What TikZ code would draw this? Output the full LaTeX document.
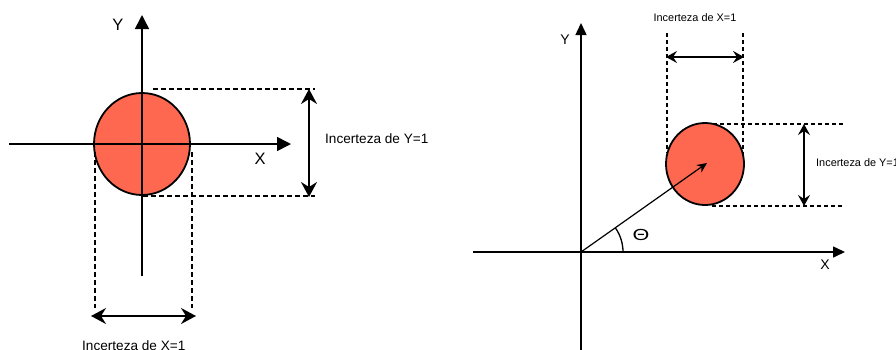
\documentclass[tikz,border=0pt]{standalone}
\usepackage{fontspec}
\setmainfont{Liberation Sans}
\usetikzlibrary{arrows.meta,shapes.geometric,angles}
\definecolor{blobred}{RGB}{255,104,80}
\tikzset{
	blob/.style={ellipse, draw=black, line width=1.8pt, fill=blobred, inner sep=0pt},
	guide/.style={line width=1.4pt, dash pattern=on 5pt off 3pt},
	lbl/.style={inner sep=0pt, font=\fontsize{13.6}{16}\selectfont}
}

\begin{document}
\begin{tikzpicture}[x=1pt, y=-1pt,
		axisarr/.style={-{Triangle[length=14pt,width=14pt]}, line width=1.6pt},
		dimarr/.style={{Stealth[length=15pt,width=16pt,inset=5pt]}-{Stealth[length=15pt,width=16pt,inset=5pt]}, line width=1.8pt},
		axisarrs/.style={-{Triangle[length=12pt,width=11pt]}, line width=1.5pt},
		dimarrs/.style={{Stealth[length=11pt,width=12pt,inset=4pt]}-{Stealth[length=11pt,width=12pt,inset=4pt]}, line width=1.5pt},
		guides/.style={line width=1.2pt, dash pattern=on 4pt off 3pt},
		lbls/.style={inner sep=0pt, font=\fontsize{10.9}{13}\selectfont}
	]
	\useasboundingbox (0,0) rectangle (896,349);
	% left: point with its uncertainty
	\coordinate (o1) at (142,144);
	\node[blob, minimum width=96pt, minimum height=102pt] (c1) at (o1) {};
	\coordinate (x1a) at (9,144);
	\coordinate (x1b) at (291,144);
	\coordinate (y1a) at (142,276);
	\coordinate (y1b) at (142,15);
	\draw[axisarr] (x1a) -- (x1b);
	\draw[axisarr] (y1a) -- (y1b);
	\node[font=\fontsize{16.5}{18}\selectfont] (y1lab) at (118,25) {Y};
	\node[font=\fontsize{16.5}{18}\selectfont] (x1lab) at (260,159) {X};
	\coordinate (t1a) at (153,89);
	\coordinate (t1b) at (315,89);
	\coordinate (b1a) at (143,196);
	\coordinate (b1b) at (315,196);
	\coordinate (l1a) at (95,152);
	\coordinate (l1b) at (95,308);
	\coordinate (r1a) at (192,152);
	\coordinate (r1b) at (192,308);
	\draw[guide] (t1a) -- (t1b);
	\draw[guide] (b1a) -- (b1b);
	\draw[guide] (l1a) -- (l1b);
	\draw[guide] (r1a) -- (r1b);
	\coordinate (dy1a) at (309,89);
	\coordinate (dy1b) at (309,197);
	\coordinate (dx1a) at (91,316);
	\coordinate (dx1b) at (196,316);
	\draw[dimarr] (dy1a) -- (dy1b);
	\draw[dimarr] (dx1a) -- (dx1b);
	\node[lbl, anchor=west] (uy1) at (325,139) {Incerteza de Y=1};
	\node[lbl, anchor=base west] (ux1) at (82,350) {Incerteza de X=1};

	% right: point seen from the origin
	\coordinate (o2) at (581,252);
	\node[blob, minimum width=78pt, minimum height=82pt] (c2) at (705,164) {};
	\coordinate (x2a) at (473,252);
	\coordinate (x2b) at (845,252);
	\coordinate (y2a) at (581,352);
	\coordinate (y2b) at (581,23);
	\draw[axisarrs] (x2a) -- (x2b);
	\draw[axisarrs] (y2a) -- (y2b);
	\node[font=\fontsize{14}{16}\selectfont] (y2lab) at (565,40) {Y};
	\node[font=\fontsize{14}{16}\selectfont] (x2lab) at (825,265) {X};
	\coordinate (tip) at (707,163);
	\draw[-{Stealth[length=10pt,width=9pt]}, line width=1.2pt] (o2) -- (tip);
	\pic[draw, line width=1.3pt, angle radius=42pt] {angle=x2b--o2--tip};
	\node[font=\fontsize{16}{18}\selectfont, xscale=1.35] (th) at (641,235) {Θ};
	\coordinate (l2a) at (667,33);
	\coordinate (l2b) at (667,153);
	\coordinate (r2a) at (743,33);
	\coordinate (r2b) at (743,157);
	\coordinate (t2a) at (713,124);
	\coordinate (t2b) at (843,124);
	\coordinate (b2a) at (712,206);
	\coordinate (b2b) at (843,206);
	\draw[guides] (l2a) -- (l2b);
	\draw[guides] (r2a) -- (r2b);
	\draw[guides] (t2a) -- (t2b);
	\draw[guides] (b2a) -- (b2b);
	\coordinate (dx2a) at (666,57);
	\coordinate (dx2b) at (744,57);
	\coordinate (dy2a) at (804,124);
	\coordinate (dy2b) at (804,206);
	\draw[dimarrs] (dx2a) -- (dx2b);
	\draw[dimarrs] (dy2a) -- (dy2b);
	\node[lbls] (ux2) at (695,18) {Incerteza de X=1};
	\node[lbls, anchor=west] (uy2) at (816,163) {Incerteza de Y=1};
\end{tikzpicture}
\end{document}
